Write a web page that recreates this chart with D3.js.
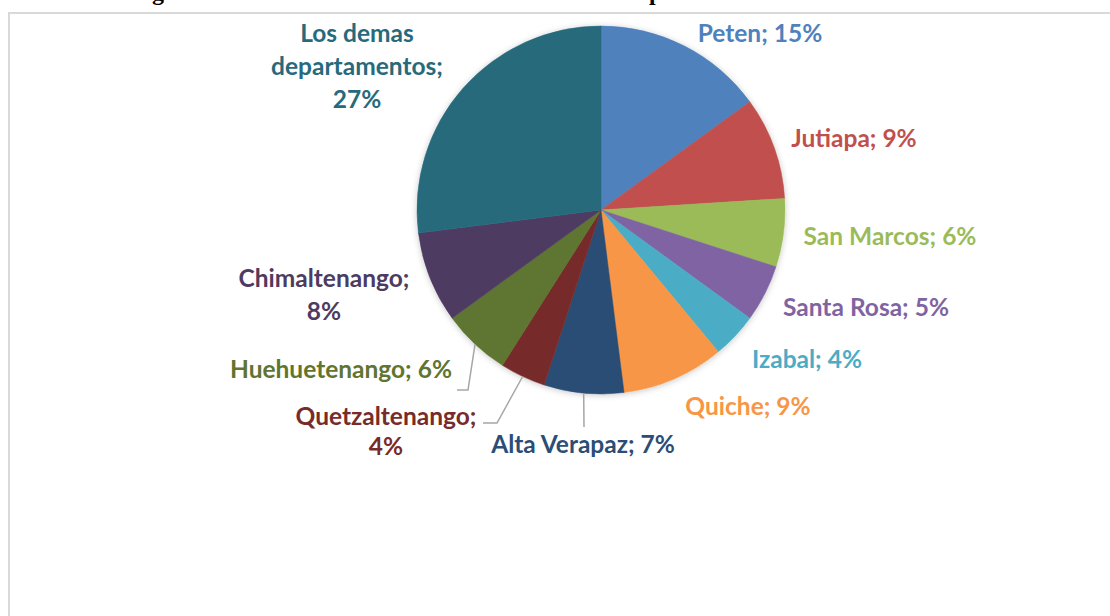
<!DOCTYPE html>
<meta charset="utf-8">
<style>
  body { margin: 0; background: #fff; }
  svg { display: block; }
  .lbl { font-family: Lato, "Open Sans", sans-serif; font-weight: bold; font-size: 24.5px; }
</style>
<script src="https://d3js.org/d3.v7.min.js"></script>
<div id="chart"></div>
<script>

// data (percent of total, clockwise from 12 o'clock)
var departments = ["Peten", "Jutiapa", "San Marcos", "Santa Rosa", "Izabal", "Quiche",
                   "Alta Verapaz", "Quetzaltenango", "Huehuetenango", "Chimaltenango",
                   "Los demas departamentos"];
var shares = [15, 9, 6, 5, 4, 9, 7, 4, 6, 8, 27];
var sliceColors = ["#4f81bd", "#c0504d", "#9bbb59", "#8064a2", "#4bacc6", "#f79646",
                   "#2c4d75", "#772c2a", "#5f7530", "#4d3b62", "#276a7c"];

// title is cut off at the top of the picture, only its descenders show
var titleText = "Figura 1. Distribución de la incidencia en los departamentos";

var width = 1110, height = 616;
var cx = 601, cy = 210, radius = 184;

// where each label sits (centre x, first baseline y, line height, line breaks)
var labelLayout = {
  "Peten":                   {x: 760, y: 42,  lh: 0,  lines: null},
  "Jutiapa":                 {x: 854, y: 147, lh: 0,  lines: null},
  "San Marcos":              {x: 890, y: 245, lh: 0,  lines: null},
  "Santa Rosa":              {x: 866, y: 316, lh: 0,  lines: null},
  "Izabal":                  {x: 807, y: 368, lh: 0,  lines: null},
  "Quiche":                  {x: 748, y: 415, lh: 0,  lines: null},
  "Alta Verapaz":            {x: 583, y: 453, lh: 0,  lines: null},
  "Quetzaltenango":          {x: 386, y: 425, lh: 30, lines: ["Quetzaltenango;", "4%"]},
  "Huehuetenango":           {x: 341, y: 378, lh: 0,  lines: null},
  "Chimaltenango":           {x: 324, y: 287, lh: 33, lines: ["Chimaltenango;", "8%"]},
  "Los demas departamentos": {x: 357, y: 42,  lh: 33, lines: ["Los demas", "departamentos;", "27%"]}
};

// leader lines: elbow point and end point for the labels that have one
var leaders = {
  "Alta Verapaz":   [[584, 427]],
  "Quetzaltenango": [[497, 423], [483, 423]],
  "Huehuetenango":  [[468, 390], [457, 390]]
};

var svg = d3.select("#chart").append("svg")
  .attr("width", width)
  .attr("height", height);

var defs = svg.append("defs");
var shadow = defs.append("filter").attr("id", "shadow")
  .attr("x", "-20%").attr("y", "-20%").attr("width", "140%").attr("height", "140%");
shadow.append("feDropShadow")
  .attr("dx", 0).attr("dy", 1).attr("stdDeviation", 3)
  .attr("flood-color", "#000").attr("flood-opacity", 0.22);

// title (sits above the page edge, only descenders peek in)
var title = svg.append("text")
  .attr("y", 0)
  .style("font-family", "'Liberation Serif', 'Times New Roman', serif")
  .style("font-weight", "bold")
  .style("font-size", "24px")
  .attr("fill", "#000")
  .text(titleText);
// line the 'g' and the 'p' up with the bits still visible
var gi = titleText.indexOf("g"), pi = titleText.indexOf("p");
var node = title.node();
var gx = node.getStartPositionOfChar(gi).x;
title.attr("x", 152 - gx);
var px = node.getStartPositionOfChar(pi).x;
var spaces = titleText.slice(gi, pi).split(" ").length - 1;
title.style("word-spacing", ((649 - px) / spaces) + "px");

// chart frame, runs off the right and bottom edges
svg.append("rect")
  .attr("x", 9).attr("y", 13)
  .attr("width", 1300).attr("height", 800)
  .attr("fill", "none")
  .attr("stroke", "#d9d9d9")
  .attr("stroke-width", 2);

var rows = departments.map(function(d, i) { return {name: d, value: shares[i], color: sliceColors[i]}; });

var pie = d3.pie().sort(null).value(function(d) { return d.value; });
var arc = d3.arc().innerRadius(0).outerRadius(radius);
var edge = d3.arc().innerRadius(radius).outerRadius(radius);

var g = svg.append("g").attr("transform", "translate(" + cx + "," + cy + ")");
var arcs = pie(rows);

g.append("g").attr("filter", "url(#shadow)")
  .selectAll("path")
  .data(arcs)
  .enter().append("path")
    .attr("d", arc)
    .attr("fill", function(d) { return d.data.color; })
    .attr("stroke", function(d) { return d.data.color; })
    .attr("stroke-width", 0.5);

// leader lines from the slice edge
arcs.forEach(function(d) {
  var pts = leaders[d.data.name];
  if (!pts) return;
  var start = edge.centroid(d);
  var path = [[cx + start[0], cy + start[1]]].concat(pts);
  svg.append("path")
    .attr("d", d3.line()(path))
    .attr("fill", "none")
    .attr("stroke", "#a6a6a6")
    .attr("stroke-width", 1.5);
});

// labels
arcs.forEach(function(d) {
  var L = labelLayout[d.data.name];
  var lines = L.lines || [d.data.name + "; " + d.data.value + "%"];
  var t = svg.append("text")
    .attr("class", "lbl")
    .attr("text-anchor", "middle")
    .attr("fill", d.data.color);
  lines.forEach(function(s, k) {
    t.append("tspan").attr("x", L.x).attr("y", L.y + k * L.lh).text(s);
  });
});

</script>
